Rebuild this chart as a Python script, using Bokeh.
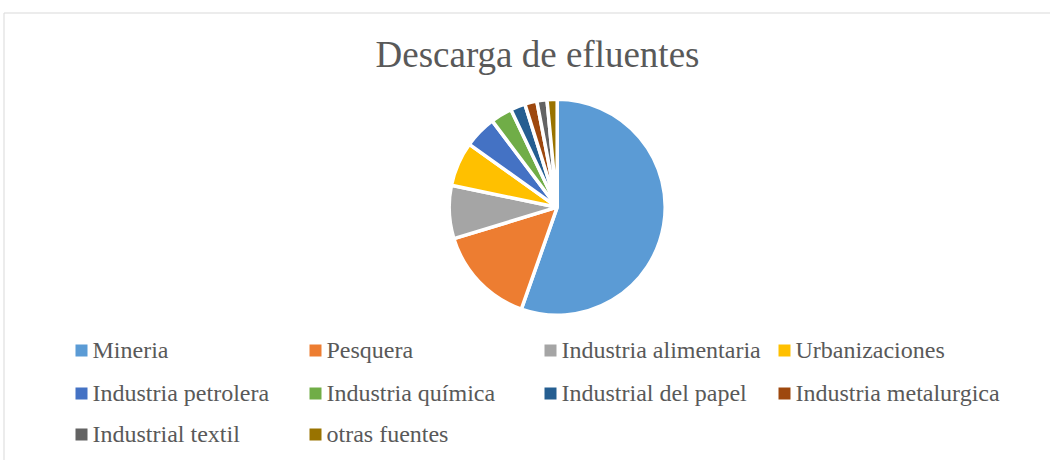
import numpy as np
from bokeh.plotting import figure
from bokeh.models import Range1d, ColumnDataSource
from bokeh.core.properties import value
from bokeh.embed import file_html
from bokeh.resources import INLINE

title = "Descarga de efluentes"
categories = ["Mineria", "Pesquera", "Industria alimentaria", "Urbanizaciones",
              "Industria petrolera", "Industria química", "Industrial del papel",
              "Industria metalurgica", "Industrial textil", "otras fuentes"]
values = [55.0, 14.8, 7.9, 6.6, 4.8, 3.2, 2.2, 1.8, 1.5, 1.5]
colors = ["#5B9BD5", "#ED7D31", "#A5A5A5", "#FFC000", "#4472C4",
          "#70AD47", "#255E91", "#9E480E", "#636363", "#997300"]

W, H = 1050, 460
p = figure(width=W, height=H, output_backend="svg", toolbar_location=None,
           x_range=Range1d(0, W), y_range=Range1d(0, H), min_border=0)
p.axis.visible = False
p.grid.visible = False
p.outline_line_color = None
p.background_fill_color = "white"
p.border_fill_color = "white"

def Y(y):
    return H - y

# chart border
p.quad(left=[3.5], right=[W + 10], top=[Y(12.5)], bottom=[Y(H + 10)],
       fill_color=None, line_color="#D9D9D9", line_width=1)

# title
p.text(x=[537], y=[Y(54)], text=[title], text_align="center", text_baseline="alphabetic",
       text_font=value("Liberation Serif"), text_font_size="37px", text_color="#595959")

# pie
vals = np.array(values, dtype=float)
frac = vals / vals.sum()
cum = np.concatenate([[0], np.cumsum(frac)])
start = np.pi / 2 - cum[1:] * 2 * np.pi
end = np.pi / 2 - cum[:-1] * 2 * np.pi
src = ColumnDataSource(dict(start=start, end=end, color=colors, cat=categories))
p.wedge(x=556.7, y=Y(206.7), radius=108, start_angle="start", end_angle="end",
        fill_color="color", line_color="white", line_width=3.5, source=src)

# legend
col_x = [75, 309, 544, 778]
row_y = [350, 393, 434]
lx, ly, tx = [], [], []
for i, c in enumerate(categories):
    r, k = divmod(i, 4)
    lx.append(col_x[k] + 6)
    ly.append(Y(row_y[r]))
    tx.append(col_x[k] + 17)
p.rect(x=lx, y=ly, width=12, height=12, fill_color=colors, line_color=None)
p.text(x=tx, y=[v + 1 for v in ly], text=categories, text_align="left",
       text_baseline="alphabetic", text_font=value("Liberation Serif"),
       text_font_size="24px", text_color="#595959")

open("out.html", "w").write(file_html(p, INLINE))
